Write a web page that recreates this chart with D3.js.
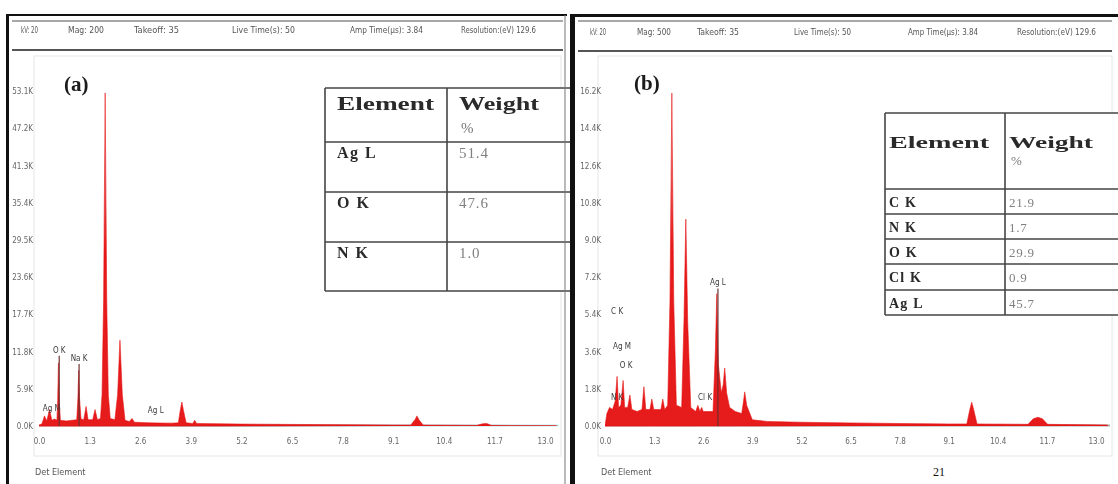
<!DOCTYPE html>
<html>
<head>
<meta charset="utf-8">
<title>EDX spectra (a) and (b)</title>
<style>
  body { margin: 0; background: #fff; }
  svg { display: block; }
  .tick text { font-family: "Liberation Sans Narrow", "DejaVu Sans Condensed", sans-serif; font-size: 8px; fill: #666; }
  .head { font-family: "Liberation Sans Narrow", "DejaVu Sans Condensed", sans-serif; font-size: 9px; fill: #555; }
  .elab { font-family: "Liberation Sans Narrow", "DejaVu Sans Condensed", sans-serif; font-size: 8px; fill: #3a3a3a; }
  .tbl { font-family: "Liberation Serif", serif; }
</style>
</head>
<body>
<script src="https://d3js.org/d3.v7.min.js"></script>
<script>
// ---- data ----
const xTicks = [0.0, 1.3, 2.6, 3.9, 5.2, 6.5, 7.8, 9.1, 10.4, 11.7, 13.0]   // keV
const yTicksA = [0, 5.9, 11.8, 17.7, 23.6, 29.5, 35.4, 41.3, 47.2, 53.1]    // K counts
const yTicksB = [0, 1.8, 3.6, 5.4, 7.2, 9.0, 10.8, 12.6, 14.4, 16.2]

const headerA = ["kV: 20", "Mag: 200", "Takeoff: 35", "Live Time(s): 50", "Amp Time(µs): 3.84", "Resolution:(eV) 129.6"]
const headerB = ["kV: 20", "Mag: 500", "Takeoff: 35", "Live Time(s): 50", "Amp Time(µs): 3.84", "Resolution:(eV) 129.6"]

// spectrum (a): energy keV / counts K
const energyA = [0, 0.08, 0.14, 0.20, 0.27, 0.33, 0.40, 0.46, 0.48, 0.50,
                 0.52, 0.55, 0.70, 0.85, 0.97, 1.00, 1.02, 1.04, 1.08, 1.15,
                 1.21, 1.26, 1.38, 1.44, 1.50, 1.58, 1.62, 1.66, 1.70, 1.74,
                 1.78, 1.83, 1.95, 2.02, 2.08, 2.14, 2.21, 2.32, 2.39, 2.45,
                 2.80, 3.40, 3.58, 3.63, 3.67, 3.71, 3.78, 3.95, 4.00, 4.05,
                 4.60, 5.20, 6.50, 7.80, 9.10, 9.55, 9.66, 9.71, 9.76, 9.87,
                 11.25, 11.40, 11.50, 11.62, 13.30]
const countsA = [0, 0.4, 1.6, 0.8, 2.6, 0.9, 1.1, 0.9, 4, 10.0,
                 4, 0.9, 0.8, 0.9, 1.0, 4.5, 8.8, 4.5, 1.1, 1.0,
                 3.1, 1.0, 1.0, 2.6, 1.0, 1.2, 5, 20, 52.8, 20,
                 5, 1.2, 1.0, 5, 13.6, 5, 0.9, 0.7, 1.2, 0.6,
                 0.5, 0.45, 0.5, 2.5, 3.8, 2.5, 0.5, 0.4, 0.9, 0.4,
                 0.35, 0.3, 0.25, 0.2, 0.15, 0.15, 1.0, 1.6, 1.0, 0.15,
                 0.1, 0.35, 0.4, 0.1, 0.05]

// spectrum (b)
const energyB = [0, 0.05, 0.12, 0.20, 0.27, 0.32, 0.36, 0.42, 0.48, 0.52,
                 0.60, 0.66, 0.71, 0.85, 0.98, 1.03, 1.08, 1.19, 1.24, 1.29,
                 1.48, 1.53, 1.58, 1.66, 1.72, 1.77, 1.82, 1.89, 2.03, 2.09,
                 2.14, 2.19, 2.27, 2.40, 2.46, 2.51, 2.56, 2.60, 2.86, 2.92,
                 2.96, 3.00, 3.08, 3.13, 3.17, 3.22, 3.30, 3.45, 3.62, 3.66,
                 3.70, 3.75, 3.90, 4.30, 5.20, 6.50, 7.80, 9.10, 9.58, 9.66,
                 9.71, 9.76, 9.85, 11.20, 11.34, 11.46, 11.58, 11.72, 13.30]
const countsB = [0, 0.6, 0.9, 0.8, 1.2, 2.4, 0.9, 1.0, 2.2, 0.9,
                 0.9, 1.5, 0.8, 0.7, 0.8, 1.9, 0.8, 0.8, 1.3, 0.8,
                 0.8, 1.3, 0.8, 1.0, 6, 16.1, 6, 1.0, 0.9, 5,
                 10.0, 5, 0.9, 0.7, 1.0, 0.7, 0.9, 0.7, 0.7, 3.5,
                 6.4, 3.0, 1.6, 2.0, 2.8, 1.6, 0.9, 0.7, 0.6, 1.1,
                 1.65, 1.0, 0.3, 0.22, 0.18, 0.15, 0.12, 0.1, 0.1, 0.8,
                 1.15, 0.8, 0.1, 0.08, 0.35, 0.42, 0.35, 0.08, 0.05]

// element labels inside the spectra (energy keV, label height K, marker line)
const labelNamesA = ["Ag M", "O K", "Na K", "Ag L"]
const labelEnergyA = [0.33, 0.52, 1.03, 3.0]
const labelCountsA = [2.4, 11.6, 10.3, 2.1]
const labelMarkA = [false, true, true, false]

const labelNamesB = ["C K", "Ag M", "O K", "N K", "Cl K", "Ag L"]
const labelEnergyB = [0.32, 0.45, 0.56, 0.32, 2.65, 2.99]
const labelCountsB = [5.4, 3.7, 2.8, 1.25, 1.25, 6.8]
const labelMarkB = [false, false, false, false, false, true]

// composition tables
const tableHead = ["Element", "Weight", "%"]
const tableElementsA = ["Ag L", "O K", "N K"]
const tableWeightsA = [51.4, 47.6, 1.0]
const tableElementsB = ["C K", "N K", "O K", "Cl K", "Ag L"]
const tableWeightsB = [21.9, 1.7, 29.9, 0.9, 45.7]

// ---- drawing ----
const red = "#e61a1a"
const svg = d3.select("body").append("svg").attr("width", 1118).attr("height", 484)
const defs = svg.append("defs")

const pf = defs.append("linearGradient").attr("id", "peakFill")
  .attr("gradientUnits", "userSpaceOnUse").attr("x1", 0).attr("x2", 0).attr("y1", 90).attr("y2", 250)
pf.append("stop").attr("offset", 0).attr("stop-color", "#f3c2c2")
pf.append("stop").attr("offset", 0.4).attr("stop-color", "#e96b6b")
pf.append("stop").attr("offset", 1).attr("stop-color", red)

const ba = defs.append("linearGradient").attr("id", "baseA")
  .attr("gradientUnits", "userSpaceOnUse").attr("x1", 39).attr("x2", 560).attr("y1", 0).attr("y2", 0)
ba.append("stop").attr("offset", 0).attr("stop-color", "#c81515")
ba.append("stop").attr("offset", 0.35).attr("stop-color", "#8d2c2c")
ba.append("stop").attr("offset", 0.6).attr("stop-color", "#9c9c9c")
ba.append("stop").attr("offset", 0.72).attr("stop-color", "#a6dcdc")
ba.append("stop").attr("offset", 1).attr("stop-color", "#c2ecec")

const bb = defs.append("linearGradient").attr("id", "baseB")
  .attr("gradientUnits", "userSpaceOnUse").attr("x1", 605).attr("x2", 1110).attr("y1", 0).attr("y2", 0)
bb.append("stop").attr("offset", 0).attr("stop-color", "#c81515")
bb.append("stop").attr("offset", 0.3).attr("stop-color", "#a33")
bb.append("stop").attr("offset", 0.55).attr("stop-color", "#999")
bb.append("stop").attr("offset", 1).attr("stop-color", "#aaa")

defs.append("filter").attr("id", "soft")
  .append("feGaussianBlur").attr("stdDeviation", 0.4)

const root = svg.append("g").attr("filter", "url(#soft)")

function drawPanel(p) {
  const g = root.append("g")
  const x = d3.scaleLinear().domain([0, 13]).range([p.x0, p.x13])
  const y = d3.scaleLinear().domain([0, p.yTicks[p.yTicks.length - 1]]).range([p.y0, p.yTop])

  // frames and header rules
  g.append("rect").attr("x", p.frame[0]).attr("y", p.frame[1]).attr("width", p.frame[2]).attr("height", p.frame[3])
    .attr("fill", "none").attr("stroke", "#e6e6e6")
  g.append("line").attr("x1", p.left).attr("x2", p.right).attr("y1", 21).attr("y2", 21).attr("stroke", "#8a8a8a").attr("stroke-width", 1.5)
  g.append("line").attr("x1", p.left).attr("x2", p.right).attr("y1", p.headLine).attr("y2", p.headLine).attr("stroke", "#555").attr("stroke-width", 2)

  g.selectAll(".head").data(p.header).enter().append("text")
    .attr("class", "head")
    .attr("x", (d, i) => p.headX[i])
    .attr("y", p.headY)
    .attr("textLength", (d, i) => p.headW[i])
    .attr("lengthAdjust", "spacingAndGlyphs")
    .text(d => d)

  // baseline trace, then spectrum on top
  const xEnd = p.frame[0] + p.frame[2] - 2
  g.append("line").attr("x1", p.x0).attr("x2", xEnd)
    .attr("y1", y(0) - 0.5).attr("y2", y(0) - 0.5)
    .attr("stroke", p.baseGrad).attr("stroke-width", 2)

  const clipId = "clip" + p.id
  defs.append("clipPath").attr("id", clipId).append("rect")
    .attr("x", p.x0).attr("y", p.frame[1]).attr("width", xEnd - p.x0).attr("height", p.y0 - p.frame[1])
  const pts = p.energy.map((e, i) => [e, p.counts[i]])
  const area = d3.area().x(d => x(d[0])).y0(y(0)).y1(d => y(d[1]))
  g.append("path").datum(pts).attr("d", area).attr("fill", "url(#peakFill)")
    .attr("stroke", red).attr("stroke-width", 0.6).attr("clip-path", "url(#" + clipId + ")")

  // element markers and labels
  p.labels.forEach((name, i) => {
    const lx = x(p.labelE[i]), ly = y(p.labelK[i])
    if (p.labelMark[i]) {
      g.append("line").attr("x1", lx).attr("x2", lx).attr("y1", ly + 3).attr("y2", y(0))
        .attr("stroke", "#6b3030").attr("stroke-width", 1.4).attr("opacity", 0.85)
    }
    g.append("text").attr("class", "elab").attr("x", lx).attr("y", ly)
      .attr("text-anchor", "middle").text(name)
  })

  // axes
  const yAxis = d3.axisLeft(y).tickValues(p.yTicks).tickFormat(v => v.toFixed(1) + "K").tickSize(0).tickPadding(0)
  g.append("g").attr("transform", "translate(" + p.yAxisX + ",0)").call(yAxis)
    .call(s => s.select(".domain").remove())
  const xAxis = d3.axisBottom(x).tickValues(xTicks).tickFormat(d3.format(".1f")).tickSize(0).tickPadding(12)
  g.append("g").attr("transform", "translate(0," + p.y0 + ")").call(xAxis)
    .call(s => s.select(".domain").remove())

  // panel tag and footer
  g.append("text").attr("class", "tbl").attr("x", p.tag[0]).attr("y", p.tag[1])
    .attr("font-size", 21).attr("font-weight", "bold").attr("fill", "#1a1a1a").text(p.tagText)
  g.append("text").attr("class", "head").attr("x", p.x0 - 4).attr("y", 475).attr("font-size", 8).text("Det Element")

  // table
  const t = p.table
  const tg = g.append("g").attr("class", "tbl")
  tg.append("rect").attr("x", t.x).attr("y", t.rows[0]).attr("width", t.right - t.x)
    .attr("height", t.rows[t.rows.length - 1] - t.rows[0]).attr("fill", "#fff")
  t.rows.forEach(ry => tg.append("line").attr("x1", t.x).attr("x2", t.right).attr("y1", ry).attr("y2", ry)
    .attr("stroke", "#444").attr("stroke-width", 1.6))
  ;[t.x, t.col].forEach(cx => tg.append("line").attr("x1", cx).attr("x2", cx)
    .attr("y1", t.rows[0]).attr("y2", t.rows[t.rows.length - 1]).attr("stroke", "#444").attr("stroke-width", 1.6))

  tg.append("text").attr("x", t.x + t.pad).attr("y", t.headY).attr("font-size", t.headSize).attr("font-weight", "bold")
    .attr("fill", "#2a2a2a").attr("textLength", t.headW[0]).attr("lengthAdjust", "spacingAndGlyphs").text(tableHead[0])
  tg.append("text").attr("x", t.col + t.pad).attr("y", t.headY).attr("font-size", t.headSize).attr("font-weight", "bold")
    .attr("fill", "#2a2a2a").attr("textLength", t.headW[1]).attr("lengthAdjust", "spacingAndGlyphs").text(tableHead[1])
  tg.append("text").attr("x", t.col + t.pad + 2).attr("y", t.pctY).attr("font-size", t.rowSize - 1)
    .attr("fill", "#777").text(tableHead[2])

  tg.selectAll(".el").data(p.elements).enter().append("text")
    .attr("x", t.x + t.pad).attr("y", (d, i) => t.rows[i + 1] + t.rowBase)
    .attr("font-size", t.rowSize).attr("font-weight", "bold").attr("fill", "#2a2a2a")
    .attr("letter-spacing", t.spacing).text(d => d)
  tg.selectAll(".wt").data(p.weights).enter().append("text")
    .attr("x", t.col + t.pad).attr("y", (d, i) => t.rows[i + 1] + t.rowBase)
    .attr("font-size", t.rowSize - 1).attr("fill", "#808080")
    .attr("letter-spacing", t.spacing * 0.6).text(d => d.toFixed(1))
}

// outer borders
svg.append("line").attr("x1", 7).attr("x2", 567).attr("y1", 15).attr("y2", 15).attr("stroke", "#111").attr("stroke-width", 2)
svg.append("line").attr("x1", 571).attr("x2", 1118).attr("y1", 15.5).attr("y2", 15.5).attr("stroke", "#111").attr("stroke-width", 3)

drawPanel({
  id: "A", x0: 39, x13: 545, y0: 426, yTop: 91, yTicks: yTicksA, yAxisX: 33,
  energy: energyA, counts: countsA, baseGrad: "url(#baseA)",
  labels: labelNamesA, labelE: labelEnergyA, labelK: labelCountsA, labelMark: labelMarkA,
  frame: [34, 56, 527, 400], left: 12, right: 563, headLine: 50,
  header: headerA, headX: [21, 68, 134, 232, 350, 461], headW: [17, 36, 45, 63, 73, 75], headY: 33,
  tag: [64, 91], tagText: "(a)",
  elements: tableElementsA, weights: tableWeightsA,
  table: { x: 325, col: 447, right: 575, rows: [88, 142, 192, 242, 291], pad: 12,
           headY: 110, pctY: 133, headSize: 19, headW: [97, 80], rowSize: 16, rowBase: 16, spacing: 1.5 }
})

drawPanel({
  id: "B", x0: 605, x13: 1096, y0: 426, yTop: 91, yTicks: yTicksB, yAxisX: 601,
  energy: energyB, counts: countsB, baseGrad: "url(#baseB)",
  labels: labelNamesB, labelE: labelEnergyB, labelK: labelCountsB, labelMark: labelMarkB,
  frame: [598, 56, 514, 400], left: 578, right: 1112, headLine: 51,
  header: headerB, headX: [590, 637, 697, 794, 908, 1017], headW: [16, 34, 42, 57, 70, 79], headY: 35,
  tag: [634, 90], tagText: "(b)",
  elements: tableElementsB, weights: tableWeightsB,
  table: { x: 885, col: 1005, right: 1125, rows: [113, 189, 214, 239, 264, 290, 315], pad: 4,
           headY: 148, pctY: 165, headSize: 16, headW: [100, 84], rowSize: 14, rowBase: 18, spacing: 1.2 }
})

// panel edges
svg.append("line").attr("x1", 7.5).attr("x2", 7.5).attr("y1", 14).attr("y2", 484).attr("stroke", "#111").attr("stroke-width", 3)
svg.append("line").attr("x1", 565).attr("x2", 565).attr("y1", 15).attr("y2", 484).attr("stroke", "#777").attr("stroke-width", 1)
svg.append("line").attr("x1", 572.5).attr("x2", 572.5).attr("y1", 14).attr("y2", 484).attr("stroke", "#111").attr("stroke-width", 5)

svg.append("text").attr("class", "tbl").attr("x", 933).attr("y", 476).attr("font-size", 12)
  .attr("fill", "#111").text("21")
</script>
</body>
</html>
